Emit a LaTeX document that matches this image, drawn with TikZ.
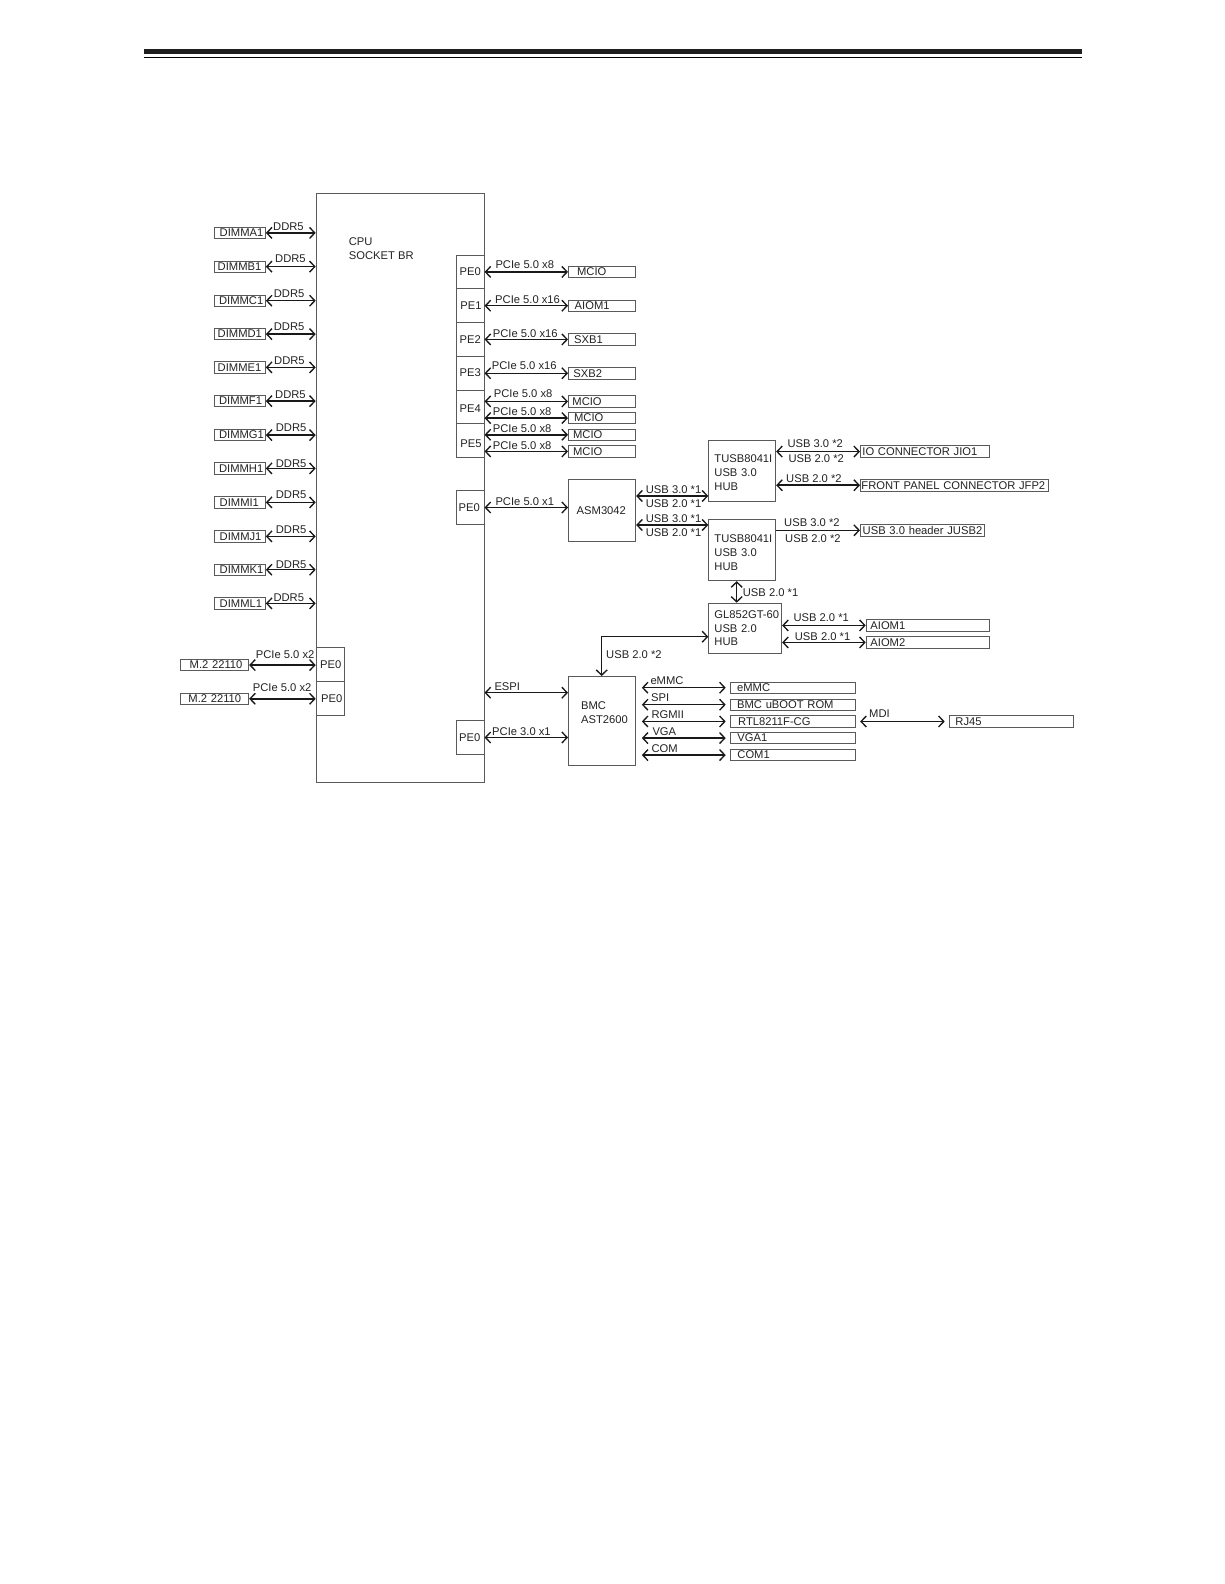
\documentclass[tikz,border=0pt]{standalone}
\usepackage{fontspec}
\setmainfont{Liberation Sans}
\usetikzlibrary{arrows.meta}
\definecolor{inkc}{HTML}{222222}
\definecolor{edgec}{HTML}{5A5A5A}
\tikzset{
  x=1pt,y=-1pt,
  boxs/.style={draw=edgec,line width=0.85pt,inner sep=0pt,anchor=north west,align=left,text=inkc,font=\fontsize{11.2}{13.8}\selectfont},
  lab/.style={inner sep=0pt,anchor=base west,text=inkc,font=\fontsize{11.2}{13.8}\selectfont},
  link/.style={black!90,line width=1.5pt,{Straight Barb[length=5.2pt,width=11pt,line width=1.35pt]}-{Straight Barb[length=5.2pt,width=11pt,line width=1.35pt]}},
  oneway/.style={black!90,line width=1.5pt,-{Straight Barb[length=5.2pt,width=11pt,line width=1.35pt]}},
}
% shift the text of a box down / up by #1 pt
\newcommand\shiftdn[1]{\rule{0pt}{\dimexpr 8pt+#1pt+#1pt\relax}}
\newcommand\shiftup[1]{\rule[\dimexpr -#1pt-#1pt\relax]{0pt}{\dimexpr #1pt+#1pt\relax}}
% {name}{x1}{y1}{x2}{y2}{text x}{text}
\newcommand\bxn[7]{%
  \pgfmathsetmacro\bxW{#4-#2}\pgfmathsetmacro\bxH{#5-#3}\pgfmathsetmacro\bxT{#6-#2}%
  \node[boxs,text width=\bxW pt,minimum height=\bxH pt] (#1) at (#2,#3) {\leftskip=\bxT pt\relax\rightskip=-250pt plus 1fil\relax #7\par};%
}
\newcommand\lb[4]{\node[lab] (#1) at (#2,#3) {#4};}
\begin{document}
\begin{tikzpicture}
\useasboundingbox (0,0) rectangle (1224,1584);
\fill[black!88] (144,49) rectangle (1082,54);
\fill[black] (144,56.8) rectangle (1082,58);

% CPU
\node[boxs,minimum width=168pt,minimum height=589pt] (cpu) at (315.7,193.3) {};
\node[lab,anchor=north west,align=left] (cputext) at (348.7,237.3) {CPU\\SOCKET BR};

% PE ports right
\bxn{pea}{455.7}{254.7}{483.7}{288.3}{459.3}{PE0}
\bxn{peb}{455.7}{288.3}{483.7}{322.3}{460}{PE1}
\bxn{pec}{455.7}{322.3}{483.7}{355.7}{459.3}{PE2}
\bxn{ped}{455.7}{355.7}{483.7}{389.7}{459.3}{PE3}
\bxn{pee}{455.7}{389.7}{483.7}{423.3}{459.3}{\shiftdn{2}PE4}
\bxn{pef}{455.7}{423.3}{483.7}{456.7}{460}{\shiftdn{3}PE5}
\bxn{peg}{455.7}{490.3}{483.7}{524.3}{458.3}{PE0}
\bxn{peh}{455.7}{720.3}{483.7}{754.3}{458.8}{PE0}
% PE ports left
\bxn{pel}{315.7}{647.3}{343.7}{681.3}{319.7}{PE0}
\bxn{pem}{315.7}{681.3}{343.7}{715.3}{320.7}{PE0}

% DIMMs
\foreach \n/\t/\y/\tx/\lx/\ly in {
  A/DIMMA1/232.5/219.3/273/230,
  B/DIMMB1/266.2/217.3/275/262.7,
  C/DIMMC1/300.3/218.7/273.7/297.3,
  D/DIMMD1/333.7/217.3/273.7/330.7,
  E/DIMME1/367/217.3/274/364.3,
  F/DIMMF1/400.7/218.7/275/398,
  G/DIMMG1/434.7/218.7/275.7/431.7,
  H/DIMMH1/468/218.7/275.7/467.3,
  I/DIMMI1/502/219.3/275.7/498.7,
  J/DIMMJ1/536/219.3/275.7/533.3,
  K/DIMMK1/569.3/219.3/275.7/568,
  L/DIMML1/603/219.3/273.3/601.3}{
  \pgfmathsetmacro\ya{\y-5.6}\pgfmathsetmacro\yb{\y+5.6}
  \bxn{dimm\n}{214.3}{\ya}{265}{\yb}{\tx}{\t}
  \lb{ddr\n}{\lx}{\ly}{DDR5}
  \draw[link] (dimm\n.east) -- (dimm\n.east -| cpu.west);
}

% M.2
\bxn{mta}{180.3}{659}{248.3}{670.3}{189.3}{M.2 22110}
\bxn{mtb}{180.3}{692.7}{248.3}{704}{188}{M.2 22110}
\lb{mtal}{255.7}{658.7}{PCIe 5.0 x2}
\lb{mtbl}{252.7}{691.3}{PCIe 5.0 x2}
\draw[link] (mta.east) -- (mta.east -| cpu.west);
\draw[link] (mtb.east) -- (mtb.east -| cpu.west);

% PCIe targets
\bxn{ta}{568}{265.7}{635.3}{277.3}{576.7}{MCIO}
\bxn{tb}{568}{299.6}{635.3}{311}{574.3}{AIOM1}
\bxn{tc}{568}{333.3}{635.3}{344.7}{573.7}{SXB1}
\bxn{td}{568}{367}{635.3}{378.7}{573}{SXB2}
\bxn{te}{568}{395.3}{635.3}{406.7}{572}{MCIO}
\bxn{tf}{568}{412}{635.3}{423.3}{573.7}{MCIO}
\bxn{tg}{568}{428.7}{635.3}{440}{572.7}{MCIO}
\bxn{th}{568}{445.3}{635.3}{456.7}{572.7}{MCIO}
\lb{la}{495.3}{268}{PCIe 5.0 x8}
\lb{lb}{495}{303.3}{PCIe 5.0 x16}
\lb{lc}{492.7}{337}{PCIe 5.0 x16}
\lb{ld}{491.7}{369.7}{PCIe 5.0 x16}
\lb{le}{493.7}{397}{PCIe 5.0 x8}
\lb{lf}{492.7}{415.3}{PCIe 5.0 x8}
\lb{lg}{492.7}{432.7}{PCIe 5.0 x8}
\lb{lh}{492.7}{449.7}{PCIe 5.0 x8}
\draw[link] (ta.west -| pea.east) -- (ta.west);
\draw[link] (tb.west -| peb.east) -- (tb.west);
\draw[link] (tc.west -| pec.east) -- (tc.west);
\draw[link] (td.west -| ped.east) -- (td.west);
\draw[link] (te.west -| pee.east) -- (te.west);
\draw[link] (tf.west -| pee.east) -- (tf.west);
\draw[link] (tg.west -| pef.east) -- (tg.west);
\draw[link] (th.west -| pef.east) -- (th.west);

% ASM
\bxn{asm}{568}{479.3}{635.3}{541}{576.3}{ASM3042}
\lb{lasm}{495.3}{505.7}{PCIe 5.0 x1}
\coordinate (asy) at (0,507.5);
\draw[link] (peg.east |- asy) -- (asm.west |- asy);

% hubs
\bxn{hubo}{708.3}{440}{775.3}{501.3}{714}{\shiftdn{1.3}TUSB8041I\\USB 3.0\\HUB}
\bxn{hubt}{708.3}{518.7}{775.3}{580.3}{714}{\shiftdn{2.5}TUSB8041I\\USB 3.0\\HUB}
\bxn{gl}{708.3}{602.7}{781.3}{653}{714}{GL852GT-60\\USB 2.0\\HUB}
\coordinate (ua) at (0,496);
\coordinate (ub) at (0,525);
\draw[link] (asm.east |- ua) -- (hubo.west |- ua);
\draw[link] (asm.east |- ub) -- (hubt.west |- ub);
\lb{uaa}{645.7}{493.3}{USB 3.0 *1}
\lb{uab}{645.7}{507.3}{USB 2.0 *1}
\lb{uba}{645.7}{522.7}{USB 3.0 *1}
\lb{ubb}{645.7}{536}{USB 2.0 *1}

% hub right side
\bxn{jio}{860}{445.3}{989}{457}{862}{IO CONNECTOR JIO1}
\bxn{jfp}{860}{479}{1048}{490.6}{861}{FRONT PANEL CONNECTOR JFP2}
\bxn{jusb}{860}{524.2}{983.7}{535.6}{862.3}{USB 3.0 header JUSB2}
\draw[link] (jio.west -| hubo.east) -- (jio.west);
\draw[link] (jfp.west -| hubo.east) -- (jfp.west);
\draw[oneway] (jusb.west -| hubt.east) -- (jusb.west);
\lb{ja}{787.3}{447.3}{USB 3.0 *2}
\lb{jb}{788.3}{462}{USB 2.0 *2}
\lb{jc}{786}{482}{USB 2.0 *2}
\lb{jd}{784}{526}{USB 3.0 *2}
\lb{je}{785}{542.7}{USB 2.0 *2}
\coordinate (vx) at (736.7,0);
\draw[link] (hubt.south -| vx) -- (gl.north -| vx);
\lb{vl}{742.7}{596.7}{USB 2.0 *1}

% AIOM
\bxn{aa}{865.7}{619.3}{989}{630.7}{870}{AIOM1}
\bxn{ab}{865.7}{636.3}{989}{647.7}{870}{AIOM2}
\draw[link] (aa.west -| gl.east) -- (aa.west);
\draw[link] (ab.west -| gl.east) -- (ab.west);
\lb{aal}{793.3}{621.3}{USB 2.0 *1}
\lb{abl}{794.7}{640.7}{USB 2.0 *1}

% BMC
\bxn{bmc}{568}{676}{635.3}{765.3}{580.7}{BMC\\AST2600\shiftup{8.5}}
\coordinate (ex) at (601.7,0);
\coordinate (ey) at (0,636.7);
\draw[link] (bmc.north -| ex) -- (ex |- ey) -- (gl.west |- ey);
\lb{bl}{606}{658.3}{USB 2.0 *2}
\coordinate (esp) at (0,692.7);
\draw[link] (cpu.east |- esp) -- (bmc.west |- esp);
\lb{espl}{494.3}{690}{ESPI}
\coordinate (pcy) at (0,737.5);
\draw[link] (peh.east |- pcy) -- (bmc.west |- pcy);
\lb{pcl}{492}{735.7}{PCIe 3.0 x1}

\bxn{ra}{730.3}{681.7}{854.7}{692.9}{736.7}{eMMC}
\bxn{rb}{730.3}{698.6}{854.7}{710}{736.7}{BMC uBOOT ROM}
\bxn{rc}{730.3}{715.4}{854.7}{726.7}{737.7}{RTL8211F-CG}
\bxn{rd}{730.3}{732}{854.7}{743.3}{737}{VGA1}
\bxn{re}{730.3}{749}{854.7}{760.3}{737}{COM1}
\foreach \r in {ra,rb,rc,rd,re}{
  \draw[link,shorten <=5.7pt,shorten >=4.6pt] (\r.west -| bmc.east) -- (\r.west);
}
\lb{ral}{650.3}{684}{eMMC}
\lb{rbl}{651}{701.3}{SPI}
\lb{rcl}{651.3}{718.7}{RGMII}
\lb{rdl}{652.3}{735.3}{VGA}
\lb{rel}{651.3}{752.7}{COM}

% RJ45
\bxn{rj}{949.3}{715.4}{1073.3}{726.7}{955}{RJ45}
\draw[link,shorten <=4.6pt,shorten >=4.6pt] (rc.east) -- (rj.west);
\lb{mdi}{869}{717.3}{MDI}
\end{tikzpicture}
\end{document}
